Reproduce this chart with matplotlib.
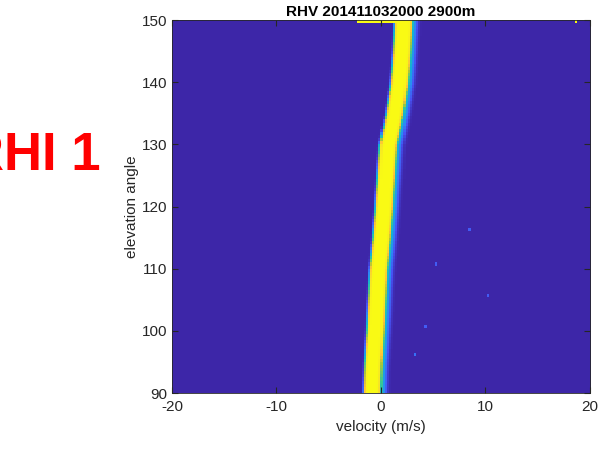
import numpy as np
import matplotlib
matplotlib.use("Agg")
import matplotlib.pyplot as plt
from matplotlib.colors import LinearSegmentedColormap

plt.rcParams['font.family'] = ['Liberation Sans', 'DejaVu Sans']
plt.rcParams['axes.unicode_minus'] = False

# --- data ---
title = "RHV 201411032000 2900m"
xlabel = "velocity (m/s)"
ylabel = "elevation angle"
xticks = [-20, -10, 0, 10, 20]
yticks = [90, 100, 110, 120, 130, 140, 150]

# track of the spectrum peak (elevation deg -> velocity m/s)
track_elev = [90, 95, 100, 105, 110, 115, 120, 125, 130, 135, 140, 145, 150]
track_vel = [-0.85, -0.75, -0.55, -0.4, -0.25, 0.05, 0.3, 0.5, 0.7, 1.3, 1.75, 2.0, 2.15]
half_width_left = 0.9
half_width_right = 0.75
shoulder_right = 1.15

# extra returns on the top row and a few isolated cells
top_row_span = (-2.3, 2.1)
stray_vel = [18.6, 8.4, 5.1, 10.1, 3.2, 4.2]
stray_elev = [150.0, 116.5, 111.0, 106.0, 96.5, 101.0]
stray_val = [1.0, 0.15, 0.15, 0.15, 0.2, 0.15]

# --- grid ---
vel = np.arange(-20, 20.001, 0.2)
elev = np.arange(90, 150.001, 0.5)
V, E = np.meshgrid(vel, elev)
C = np.interp(E, track_elev, track_vel)
D = V - C
Z = np.where(D < 0,
             np.exp(-(D / half_width_left) ** 8),
             0.55 * np.exp(-(D / shoulder_right) ** 4) + 0.45 * np.exp(-(D / half_width_right) ** 8))
Z[-1, (vel >= top_row_span[0]) & (vel <= top_row_span[1])] = 1.0
for sv, se, val in zip(stray_vel, stray_elev, stray_val):
    i = np.argmin(np.abs(elev - se))
    j = np.argmin(np.abs(vel - sv))
    Z[i, j] = val

parula = LinearSegmentedColormap.from_list("parula", [
    (0.2422, 0.1504, 0.6603), (0.2810, 0.3228, 0.9579), (0.1786, 0.5289, 0.9682),
    (0.0689, 0.6948, 0.8394), (0.2161, 0.7843, 0.5923), (0.6720, 0.7793, 0.2227),
    (0.9970, 0.7659, 0.2199), (0.9650, 0.9000, 0.1500), (0.9769, 0.9839, 0.0805)])

fig = plt.figure(figsize=(6.06, 4.49), dpi=100)
ax = fig.add_axes([0.2838, 0.1247, 0.6898, 0.8307])
# each row covers [elev - 0.5, elev], so the 150 row sits just under the top edge
ax.imshow(Z, origin='lower', aspect='auto', cmap=parula, vmin=0, vmax=1,
          extent=[vel[0] - 0.1, vel[-1] + 0.1, elev[0] - 0.5, elev[-1]],
          interpolation='nearest')
ax.set_xlim(-20, 20)
ax.set_ylim(90, 150)
ax.set_xticks(xticks)
ax.set_yticks(yticks)
ax.tick_params(direction='in', top=True, right=True, length=4, labelsize=11,
               color='0.15', labelcolor='0.15')
ax.tick_params(axis='x', pad=5)
for s in ax.spines.values():
    s.set_color('0.15')
    s.set_linewidth(0.6)
ax.set_xlabel(xlabel, fontsize=11, color='0.15')
ax.set_ylabel(ylabel, fontsize=11, color='0.15', labelpad=2)
ax.set_title(title, fontsize=11, fontweight='bold', pad=3)

fig.text(0.166, 0.6214, "RHI 1", color='red', fontsize=38, fontweight='bold',
         ha='right', va='baseline')

fig.savefig("out.png", dpi=100)
